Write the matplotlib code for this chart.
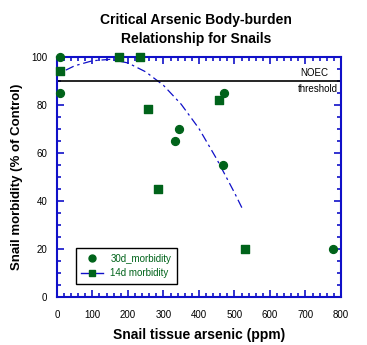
import matplotlib.pyplot as plt
from matplotlib.lines import Line2D
from matplotlib.ticker import MultipleLocator

plt.rcParams.update({
    "font.family": ["Liberation Sans", "DejaVu Sans"],
    "font.size": 7,
})

BLUE = "#1010C8"
GREEN = "#00631A"

# 30d morbidity (circles)
x30 = [9, 10, 334, 343, 467, 472, 779]
y30 = [100, 85, 65, 70, 55, 85, 20]

# 14d morbidity (squares)
x14 = [9, 174, 234, 258, 285, 457, 530]
y14 = [94, 100, 100, 78.5, 45, 82, 20]

# fitted curve
xfit = [25, 50, 100, 150, 200, 250, 300, 350, 400, 450, 500, 525]
yfit = [94.5, 96.3, 98.4, 99, 97.5, 93.8, 88.2, 80.3, 70.2, 57.5, 43.5, 36]

noec = 90

fig = plt.figure(figsize=(3.67, 3.45), dpi=100)
ax = fig.add_axes([0.155, 0.139, 0.774, 0.696])

ax.plot(xfit, yfit, color=BLUE, lw=0.9, ls=(0, (7, 3, 2, 3)))
ax.axhline(noec, color="black", lw=1.2)
ax.scatter(x30, y30, marker="o", s=32, color=GREEN, zorder=3, clip_on=False)
ax.scatter(x14, y14, marker="s", s=32, color=GREEN, zorder=3, clip_on=False)

ax.text(765, noec + 1.2, "NOEC", ha="right", va="bottom", fontsize=7)
ax.text(790, noec - 1.2, "threshold", ha="right", va="top", fontsize=7)

ax.set_xlim(0, 800)
ax.set_ylim(0, 100)
ax.xaxis.set_major_locator(MultipleLocator(100))
ax.xaxis.set_minor_locator(MultipleLocator(20))
ax.yaxis.set_major_locator(MultipleLocator(20))
ax.yaxis.set_minor_locator(MultipleLocator(5))
ax.tick_params(which="both", direction="in", top=True, right=True,
               color=BLUE, width=1.2, labelsize=7, pad=7)
ax.tick_params(axis="x", which="major", pad=9)
ax.tick_params(which="major", length=5)
ax.tick_params(which="minor", length=3)
for s in ax.spines.values():
    s.set_color(BLUE)
    s.set_linewidth(1.5)

ax.set_xlabel("Snail tissue arsenic (ppm)", fontsize=10, fontweight="bold", labelpad=6)
ax.set_ylabel("Snail morbidity (% of Control)", fontsize=9.5, fontweight="bold", labelpad=6)
fig.text(0.535, 0.914, "Critical Arsenic Body-burden\nRelationship for Snails",
         ha="center", va="center", fontsize=10, fontweight="bold", linespacing=1.45)

handles = [
    Line2D([], [], marker="o", ls="none", color=GREEN, markersize=5),
    Line2D([], [], marker="s", color=BLUE, lw=1, markerfacecolor=GREEN,
           markeredgecolor=GREEN, markersize=5),
]
leg = ax.legend(handles, ["30d_morbidity", "14d morbidity"], loc="lower left",
                bbox_to_anchor=(0.05, 0.035), fancybox=False, framealpha=1,
                edgecolor="black", fontsize=7, labelcolor=GREEN,
                handlelength=2.2, borderpad=0.55)
leg.get_frame().set_linewidth(1)

fig.savefig("out.png", dpi=100)
